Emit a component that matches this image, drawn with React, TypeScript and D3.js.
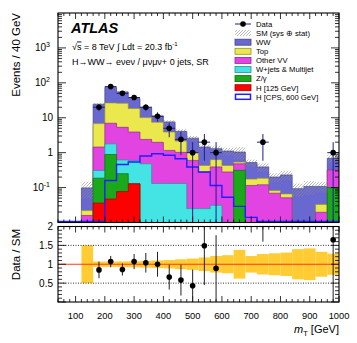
import React from "react";
import * as d3 from "d3";

const edges = [120, 160, 200, 240, 280, 320, 360, 400, 440, 480, 520, 560, 600, 640, 680, 720, 760, 800, 840, 880, 920, 960, 1000];
const h125 = [0, 0.036, 0.047, 0.077, 0.128, 0, 0, 0, 0, 0, 0, 0, 0, 0, 0, 0, 0, 0, 0, 0, 0, 0];
const zGamma = [0, 0.15, 0.84, 0.173, 0, 0, 0, 0, 0, 0, 0, 0, 0, 0.31, 0, 0, 0, 0, 0, 0, 0, 0.1];
const wJets = [0, 0.124, 0.9, 0.37, 0.47, 0.48, 0.131, 0.131, 0.131, 0.025, 0.025, 0.031, 0, 0, 0, 0, 0, 0, 0, 0, 0, 0];
const otherVV = [0.0159, 1.14, 5.16, 4.7, 3.3, 1.92, 1.85, 1.03, 0.89, 0.575, 0.255, 0.36, 0.28, 0.17, 0.115, 0.12, 0.069, 0.051, 0, 0, 0.0196, 0.22];
const topQ = [0.0061, 5.35, 19.7, 20.7, 14.5, 7.7, 5.5, 2.74, 1.13, 0.4, 0.15, 0.24, 0.15, 0.06, 0.06, 0.066, 0.013, 0.015, 0, 0, 0.0134, 0];
const ww = [0.076, 17.6, 47.2, 29, 17.2, 9.5, 3.7, 3.7, 1.95, 1.6, 1.02, 0.67, 0.68, 0.5, 0.345, 0.204, 0.118, 0.164, 0.093, 0.108, 0.075, 0.37];
const cps600 = [0, 0, 0.16, 0.46, 0.54, 0.8, 0.93, 0.84, 0.67, 0.39, 0.28, 0.115, 0.053, 0.029, 0.014, 0.009, 0, 0, 0, 0, 0, 0];
const dataCounts = [0, 20, 78, 50, 38, 20, 11, 5, 2.4, 1, 2, 1, 0, 0, 0, 2, 0, 0, 0, 0, 0, 1];
const sysRel = [0.5, 0.07, 0.07, 0.075, 0.08, 0.09, 0.1, 0.11, 0.13, 0.15, 0.18, 0.22, 0.24, 0.38, 0.22, 0.27, 0.29, 0.31, 0.4, 0.42, 0.33, 0.28];
const ratioVals = [0, 0.85, 1.07, 0.86, 1.07, 1.04, 1.0, 0.66, 0.58, 0.43, 1.49, 0.89, 0, 0, 0, 5.8, 0, 0, 0, 0, 0, 1.65];
const ratioErrs = [0, 0.22, 0.15, 0.16, 0.2, 0.26, 0.33, 0.33, 0.41, 0.43, 1.04, 0.88, 0, 0, 0, 4.2, 0, 0, 0, 0, 0, 1.65];
const xTickLabels = [100, 200, 300, 400, 500, 600, 700, 800, 900, 1000];
const yLogLabels = [
  { v: 0.1, base: "10", sup: "-1" },
  { v: 1, base: "1", sup: "" },
  { v: 10, base: "10", sup: "" },
  { v: 100, base: "10", sup: "2" },
  { v: 1000, base: "10", sup: "3" },
];
const ratioLabels = [0.5, 1, 1.5, 2];

const FONT = "Liberation Sans, Arial, Helvetica, sans-serif";

export default function App() {
  const x = d3.scaleLinear().domain([40, 1000]).range([58, 339]);
  const y = d3.scaleLog().domain([0.01, 1e4]).range([222.5, 13]);
  const yr = d3.scaleLinear().domain([0, 2]).range([302, 226.5]);
  const L = 58, R = 339, T = 13, B = 222.5, RT = 226.5, RB = 302;

  const layers = [
    { name: "H [125 GeV]", vals: h125, fill: "#ff0000" },
    { name: "Z/γ", vals: zGamma, fill: "#1ba81b" },
    { name: "W+jets & Multijet", vals: wJets, fill: "#44e4e4" },
    { name: "Other VV", vals: otherVV, fill: "#e244e2" },
    { name: "Top", vals: topQ, fill: "#ebe84e" },
    { name: "WW", vals: ww, fill: "#6868d0" },
  ];
  let run = ww.map(() => 0);
  const cumLayers = layers.map((l) => {
    run = run.map((c, i) => c + l.vals[i]);
    return { ...l, cum: run };
  });
  const total = run;

  const pts = (vals: number[]) => [
    ...vals.map((v, i) => [edges[i], v] as [number, number]),
    [edges[edges.length - 1], vals[vals.length - 1]] as [number, number],
  ];
  const area = d3
    .area<[number, number]>()
    .x((d) => x(d[0]))
    .y0(y(0.01) + 2)
    .y1((d) => y(Math.max(d[1], 0.001)))
    .curve(d3.curveStepAfter);

  const cpsLine = d3
    .line<[number, number]>()
    .x((d) => x(d[0]))
    .y((d) => Math.min(y(Math.max(d[1], 1e-4)), B - 1))
    .curve(d3.curveStepAfter);
  const cpsPts: [number, number][] = [[40, 0], ...pts(cps600)];

  const centers = edges.slice(0, -1).map((e, i) => (e + edges[i + 1]) / 2);

  const xMinor: number[] = [];
  for (let v = 40; v <= 1000; v += 20) xMinor.push(v);
  const yMinor: { v: number; major: boolean }[] = [];
  for (let d = -2; d <= 3; d++) for (let k = 1; k <= 9; k++) {
    const v = k * Math.pow(10, d);
    if (v <= 1e4) yMinor.push({ v, major: k === 1 });
  }
  const rMinor: number[] = [];
  for (let i = 0; i <= 20; i++) rMinor.push(i / 10);

  const legendItems = [
    { kind: "data", label: "Data" },
    { kind: "hatch", label: "SM (sys ⊕ stat)" },
    { kind: "box", label: "WW", fill: "#6868d0" },
    { kind: "box", label: "Top", fill: "#ebe84e" },
    { kind: "box", label: "Other VV", fill: "#e244e2" },
    { kind: "box", label: "W+jets & Multijet", fill: "#44e4e4" },
    { kind: "box", label: "Z/γ", fill: "#1ba81b" },
    { kind: "box", label: "H [125 GeV]", fill: "#ff0000" },
    { kind: "cps", label: "H [CPS, 600 GeV]" },
  ];

  return (
    <svg width={357} height={343} style={{ position: "absolute", left: 0, top: 0, background: "#fff" }} fontFamily={FONT}>
      <defs>
        <clipPath id="mainClip"><rect x={L} y={T} width={R - L} height={B - T} /></clipPath>
        <clipPath id="ratioClip"><rect x={L} y={RT} width={R - L} height={RB - RT} /></clipPath>
        <pattern id="hatch" patternUnits="userSpaceOnUse" width={3} height={3}>
          <path d="M-1,1 l2,-2 M0,3 l3,-3 M2,4 l2,-2" stroke="#8a8a8a" strokeWidth={0.6} />
        </pattern>
      </defs>
      <rect x={0} y={0} width={357} height={343} fill="#fff" />

      <g clipPath="url(#mainClip)">
        {[...cumLayers].reverse().map((l) => (
          <path key={l.name} d={area(pts(l.cum)) || ""} fill={l.fill}
            stroke={d3.color(l.fill)!.darker(1.3).formatHex()} strokeWidth={0.7} />
        ))}
        {total.map((t, i) => t > 0 ? (
          <rect key={"h" + i} x={x(edges[i])} width={x(edges[i + 1]) - x(edges[i])}
            y={y(t * (1 + sysRel[i]))} height={y(Math.max(t * (1 - sysRel[i]), 0.001)) - y(t * (1 + sysRel[i]))}
            fill="url(#hatch)" />
        ) : null)}
        <path d={cpsLine(cpsPts) || ""} fill="none" stroke="#1f1fff" strokeWidth={1.4} />
        {dataCounts.map((n, i) => n > 0 ? (
          <g key={"d" + i}>
            <line x1={x(centers[i])} x2={x(centers[i])} y1={y(n + Math.sqrt(n))}
              y2={n - Math.sqrt(n) > 0.001 ? y(n - Math.sqrt(n)) : B + 2} stroke="#1c1c90" strokeWidth={1} />
            <line x1={x(edges[i])} x2={x(edges[i + 1])} y1={y(n)} y2={y(n)} stroke="#1c1c90" strokeWidth={1} />
            <circle cx={x(centers[i])} cy={y(n)} r={2.8} fill="#000" />
          </g>
        ) : null)}
      </g>

      {xMinor.map((v) => {
        const len = v % 100 === 0 ? 6 : 3;
        return (
          <g key={"xt" + v} stroke="#000" strokeWidth={0.8}>
            <line x1={x(v)} x2={x(v)} y1={B} y2={B - len} />
            <line x1={x(v)} x2={x(v)} y1={T} y2={T + len} />
            <line x1={x(v)} x2={x(v)} y1={RB} y2={RB - len} />
            <line x1={x(v)} x2={x(v)} y1={RT} y2={RT + len} />
          </g>
        );
      })}
      {yMinor.map(({ v, major }) => {
        const len = major ? 8 : 4;
        return (
          <g key={"yt" + v} stroke="#000" strokeWidth={0.8}>
            <line x1={L} x2={L + len} y1={y(v)} y2={y(v)} />
            <line x1={R} x2={R - len} y1={y(v)} y2={y(v)} />
          </g>
        );
      })}
      <rect x={L} y={T} width={R - L} height={B - T} fill="none" stroke="#000" strokeWidth={1.1} />

      {yLogLabels.map((l) => (
        <text key={"yl" + l.v} x={l.sup ? 50 : 53} y={y(l.v) + 3.5} fontSize={10} textAnchor="end">
          {l.base}
          {l.sup ? <tspan dy={-4.5} fontSize={7}>{l.sup}</tspan> : null}
        </text>
      ))}

      <text x={71} y={33} fontSize={14.5} fontWeight="bold" fontStyle="italic">ATLAS</text>
      <text x={72} y={49.5} fontSize={9}>
        √<tspan style={{ textDecoration: "overline" }}>s</tspan> = 8 TeV ∫ Ldt =  20.3 fb
        <tspan dy={-3.8} fontSize={6}>-1</tspan>
      </text>
      <text x={72} y={65} fontSize={9}>H→WW→ eνeν / μνμν+ 0 jets, SR</text>

      {legendItems.map((it, i) => {
        const cy = 24 + i * 9.1;
        return (
          <g key={"lg" + i}>
            {it.kind === "data" && (
              <g>
                <line x1={235} x2={251} y1={cy} y2={cy} stroke="#1c1c90" strokeWidth={1} />
                <circle cx={243} cy={cy} r={2.8} fill="#000" />
              </g>
            )}
            {it.kind === "hatch" && <rect x={235} y={cy - 3} width={16} height={6} fill="url(#hatch)" />}
            {it.kind === "box" && (
              <rect x={235} y={cy - 3} width={16} height={6} fill={it.fill}
                stroke={d3.color(it.fill!)!.darker(1.3).formatHex()} strokeWidth={0.8} />
            )}
            {it.kind === "cps" && (
              <rect x={235.5} y={cy - 2.5} width={15} height={5} fill="#fff" stroke="#1f1fff" strokeWidth={1.5} />
            )}
            <text x={256} y={cy + 2.8} fontSize={7.7}>{it.label}</text>
          </g>
        );
      })}

      <g clipPath="url(#ratioClip)">
        {sysRel.map((e, i) => (
          <rect key={"rb" + i} x={x(edges[i])} width={x(edges[i + 1]) - x(edges[i])}
            y={yr(1 + e)} height={yr(1 - e) - yr(1 + e)} fill="#ffcc33" />
        ))}
        {[0.5, 1.5].map((v) => (
          <line key={"dl" + v} x1={L} x2={R} y1={yr(v)} y2={yr(v)} stroke="#000" strokeWidth={0.8} strokeDasharray="1,1.5" />
        ))}
        <line x1={L} x2={R} y1={yr(1)} y2={yr(1)} stroke="#ff3a1a" strokeWidth={1} />
        {ratioVals.map((r, i) => dataCounts[i] > 0 ? (
          <g key={"rp" + i}>
            <line x1={x(centers[i])} x2={x(centers[i])} y1={yr(Math.min(r + ratioErrs[i], 2.2))}
              y2={yr(Math.max(r - ratioErrs[i], 0))} stroke="#222" strokeWidth={1} />
            <circle cx={x(centers[i])} cy={yr(r)} r={2.8} fill="#000" />
          </g>
        ) : null)}
      </g>
      {rMinor.map((v) => {
        const major = Math.abs(v * 2 - Math.round(v * 2)) < 1e-6;
        const len = major ? 8 : 4;
        return (
          <g key={"rt" + v} stroke="#000" strokeWidth={0.8}>
            <line x1={L} x2={L + len} y1={yr(v)} y2={yr(v)} />
            <line x1={R} x2={R - len} y1={yr(v)} y2={yr(v)} />
          </g>
        );
      })}
      <rect x={L} y={RT} width={R - L} height={RB - RT} fill="none" stroke="#000" strokeWidth={1.1} />
      {ratioLabels.map((v) => (
        <text key={"rl" + v} x={53} y={yr(v) + 3.5} fontSize={10} textAnchor="end">{v}</text>
      ))}
      {xTickLabels.map((v) => (
        <text key={"xl" + v} x={x(v)} y={318.5} fontSize={9.3} textAnchor="middle">{v}</text>
      ))}

      <text transform="rotate(-90)" x={-13} y={20} fontSize={11.5} textAnchor="end">Events / 40 GeV</text>
      <text transform="rotate(-90)" x={-229} y={20} fontSize={11.5} textAnchor="end">Data / SM</text>
      <text x={339} y={333} fontSize={11} textAnchor="end">
        <tspan fontStyle="italic">m</tspan>
        <tspan dy={2.5} fontSize={7.5}>T</tspan>
        <tspan dy={-2.5}> [GeV]</tspan>
      </text>
    </svg>
  );
}
